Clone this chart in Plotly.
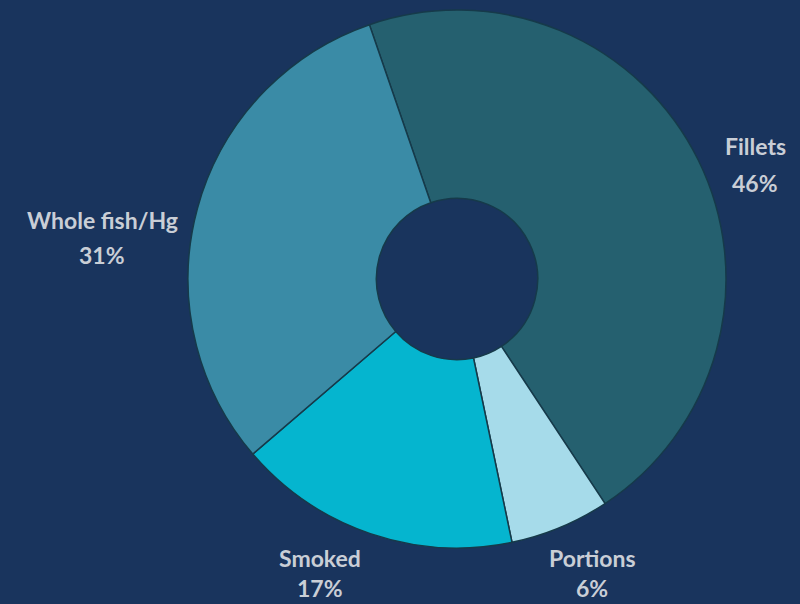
import plotly.graph_objects as go

# share of product forms, percent
labels = ["Fillets", "Portions", "Smoked", "Whole fish/Hg"]
values = [46, 6, 17, 31]
colors = ["#25606f", "#a6dbea", "#05b5cf", "#3a8ba6"]

# centre of the outside labels in pixels: x, y of name line, y of percent line
label_pos = {
    "Fillets": (755, 146, 183),
    "Portions": (592, 558, 588),
    "Smoked": (320, 558, 588),
    "Whole fish/Hg": (102, 220, 255),
}

W, H = 800, 604
bg = "#19345d"
txt = dict(family="Lato", size=23, color="#c9ced6")

fig = go.Figure()
fig.add_trace(
    go.Pie(
        labels=labels,
        values=values,
        hole=0.3,
        sort=False,
        direction="clockwise",
        rotation=341,
        textinfo="none",
        showlegend=False,
        marker=dict(colors=colors, line=dict(color="#163a4a", width=1.5)),
        domain=dict(x=[0.235, 0.9075], y=[0.0927, 0.9834]),
    )
)

for lab, v in zip(labels, values):
    px_, py1, py2 = label_pos[lab]
    for line, py in ((lab, py1), (f"{v}%", py2)):
        fig.add_annotation(
            x=px_ / W,
            y=1 - py / H,
            xref="paper",
            yref="paper",
            text=f"<b>{line}</b>",
            showarrow=False,
            xanchor="center",
            yanchor="middle",
            borderpad=0,
            font=txt,
        )

fig.update_layout(
    width=W,
    height=H,
    margin=dict(l=0, r=0, t=0, b=0),
    paper_bgcolor=bg,
    plot_bgcolor=bg,
)

# drop the browser's default body margin so the figure fills the window
fig.write_html(
    "out.html",
    config={"displayModeBar": False},
    post_script="document.body.style.margin='0';document.body.style.background='#19345d';",
)
